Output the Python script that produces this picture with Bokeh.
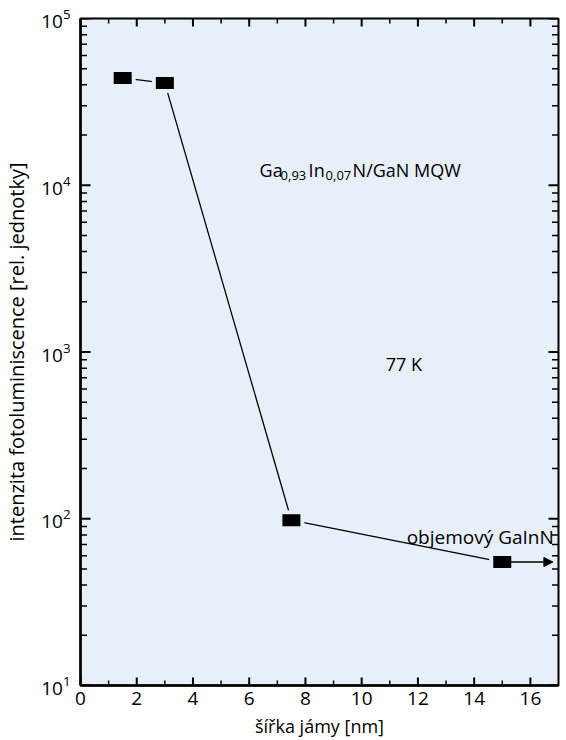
import math
from bokeh.plotting import figure
from bokeh.models import SingleIntervalTicker, LogTicker, Label, Arrow, NormalHead, Range1d
from bokeh.embed import file_html
from bokeh.resources import INLINE

# data
well_width_nm = [1.5, 3.0, 7.5, 15.0]
pl_intensity = [44000, 41000, 98, 55]
x_title = "šířka jámy [nm]"
y_title = "intenzita fotoluminiscence [rel. jednotky]"
x_lo, x_hi = 0, 17
y_lo, y_hi = 10, 1e5
x_major = list(range(0, 17, 2))
x_minor = list(range(1, 17, 2))
y_major = [10, 100, 1000, 10000, 100000]
y_minor = [m * d for d in y_major[:-1] for m in range(2, 10)]

FONT = "Open Sans"
BG = "#e7eff8"
TICK = "black"

p = figure(width=566, height=740, x_range=Range1d(x_lo, x_hi), y_range=Range1d(y_lo, y_hi),
           y_axis_type="log", output_backend="svg", toolbar_location=None,
           min_border_left=80, min_border_right=8, min_border_top=18, min_border_bottom=50)
p.background_fill_color = BG
p.border_fill_color = "white"
p.outline_line_color = "black"
p.outline_line_width = 2
p.xgrid.visible = False
p.ygrid.visible = False

xa = p.xaxis[0]
xa.ticker = SingleIntervalTicker(interval=2, num_minor_ticks=2)
xa.axis_label = x_title
ya = p.yaxis[0]
ya.ticker = LogTicker()
ya.axis_label = y_title
for ax in (xa, ya):
    ax.axis_line_width = 2.5
    ax.axis_line_color = "black"
    ax.major_tick_out = 0
    ax.minor_tick_out = 0
    ax.major_tick_in = 0
    ax.minor_tick_in = 0
    ax.major_tick_line_color = None
    ax.minor_tick_line_color = None
    ax.major_label_text_font = FONT
    ax.major_label_text_font_size = "19px"
    ax.major_label_text_color = "black"
    ax.axis_label_text_font = FONT
    ax.axis_label_text_font_style = "normal"
    ax.axis_label_text_color = "black"
xa.axis_label_text_font_size = "18px"
ya.axis_label_text_font_size = "20px"
xa.major_label_standoff = 6
xa.axis_label_standoff = 6
ya.major_label_standoff = 10
ya.axis_label_standoff = 8

# inward ticks on all four sides (half of each dash falls outside the frame and is clipped)
for edge_y in (y_lo, y_hi):
    p.scatter(x_major, [edge_y] * len(x_major), marker="dash", size=16, angle=math.pi / 2,
              line_color=TICK, line_width=2)
    p.scatter(x_minor, [edge_y] * len(x_minor), marker="dash", size=10, angle=math.pi / 2,
              line_color=TICK, line_width=1.5)
for edge_x in (x_lo, x_hi):
    p.scatter([edge_x] * len(y_major), y_major, marker="dash", size=20,
              line_color=TICK, line_width=2)
    p.scatter([edge_x] * len(y_minor), y_minor, marker="dash", size=13,
              line_color=TICK, line_width=1.5)

# data marks
p.line(well_width_nm, pl_intensity, line_color="black", line_width=1.3)
p.rect(well_width_nm, pl_intensity, width=26, height=20, width_units="screen",
       height_units="screen", fill_color=BG, line_color=None)
p.rect(well_width_nm, pl_intensity, width=18, height=12, width_units="screen",
       height_units="screen", fill_color="black", line_color=None)

p.add_layout(Arrow(end=NormalHead(size=9, fill_color="black", line_color="black"),
                   x_start=well_width_nm[-1], y_start=pl_intensity[-1],
                   x_end=16.8, y_end=pl_intensity[-1], line_width=1.5, line_color="black"))

# annotations
def lab(text, x, y, size="18px", xo=0, yo=0, align="left"):
    p.add_layout(Label(x=x, y=y, text=text, x_offset=xo, y_offset=yo, text_font=FONT,
                       text_font_size=size, text_color="black", text_align=align,
                       text_baseline="middle"))

gx, gy = 6.37, 12400
lab("Ga", gx, gy)
lab("0,93", gx, gy, size="13px", xo=21, yo=-6)
lab("In", gx, gy, xo=49)
lab("0,07", gx, gy, size="13px", xo=66, yo=-6)
lab("N/GaN MQW", gx, gy, xo=93)
lab("77 K", 11.5, 850, align="center")
lab("objemový GaInN", 11.6, 78, size="19px")

open("out.html", "w").write(file_html(p, INLINE))
